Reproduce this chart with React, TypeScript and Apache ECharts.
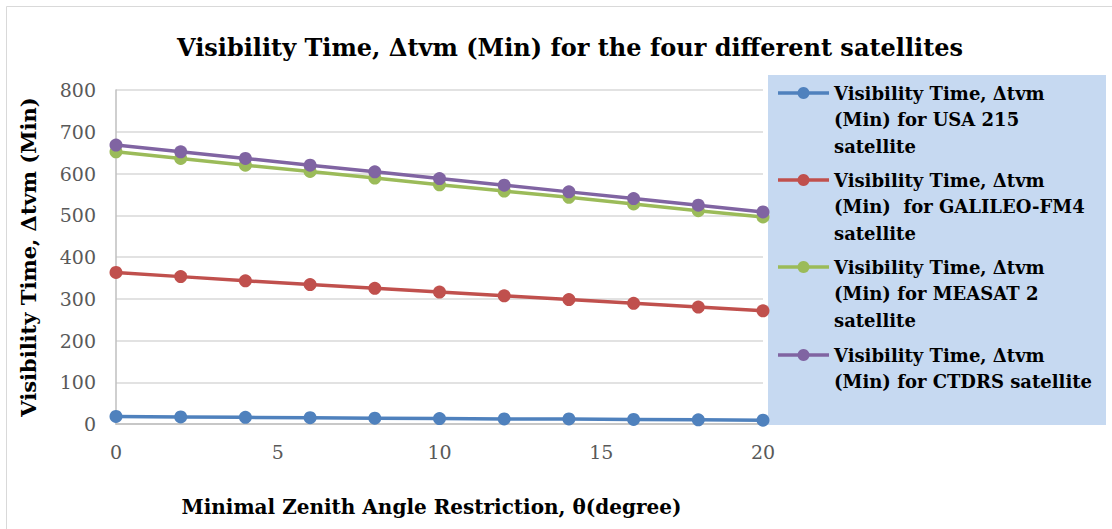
import React, { useEffect, useRef } from "react";
import * as echarts from "echarts";

const angles = [0, 2, 4, 6, 8, 10, 12, 14, 16, 18, 20];
const usa215 = [18, 17, 16, 15, 14, 13, 12, 12, 11, 10, 9];
const galileo = [363, 353, 343, 334, 325, 316, 307, 298, 289, 280, 271];
const measat = [652, 636, 620, 605, 589, 573, 558, 543, 527, 511, 496];
const ctdrs = [668, 652, 636, 620, 604, 588, 572, 556, 540, 524, 508];

const seriesNames = [
  "Visibility Time, Δtvm (Min) for USA 215 satellite",
  "Visibility Time, Δtvm (Min)  for GALILEO-FM4 satellite",
  "Visibility Time, Δtvm (Min) for MEASAT 2 satellite",
  "Visibility Time, Δtvm (Min) for CTDRS satellite",
];
const legendLines = [
  ["Visibility Time, Δtvm", "(Min) for USA 215", "satellite"],
  ["Visibility Time, Δtvm", "(Min)  for GALILEO-FM4", "satellite"],
  ["Visibility Time, Δtvm", "(Min) for MEASAT 2", "satellite"],
  ["Visibility Time, Δtvm", "(Min) for CTDRS satellite"],
];
const colors = ["#4f81bd", "#c0504d", "#9bbb59", "#8064a2"];
const allData = [usa215, galileo, measat, ctdrs];

const SERIF = "'DejaVu Serif', 'Liberation Serif', serif";

export default function App() {
  const ref = useRef<HTMLDivElement>(null);
  useEffect(() => {
    if (!ref.current) return;
    const chart = echarts.init(ref.current, null, { renderer: "svg" });

    const legendGraphics: any[] = [
      {
        type: "rect",
        shape: { x: 768, y: 75, width: 338, height: 350 },
        style: { fill: "#c6d9f1" },
        z: 1,
      },
    ];
    const itemTops = [93, 180, 267, 355];
    legendLines.forEach((lines, i) => {
      const y0 = itemTops[i];
      legendGraphics.push({
        type: "line",
        shape: { x1: 778, y1: y0, x2: 829, y2: y0 },
        style: { stroke: colors[i], lineWidth: 3.5 },
        z: 2,
      });
      legendGraphics.push({
        type: "circle",
        shape: { cx: 803.5, cy: y0, r: 6 },
        style: { fill: colors[i] },
        z: 3,
      });
      lines.forEach((t, j) => {
        legendGraphics.push({
          type: "text",
          x: 834,
          y: y0 + j * 26.5,
          style: {
            text: t,
            fill: "#000",
            font: `bold 18px ${SERIF}`,
            textVerticalAlign: "middle",
            verticalAlign: "middle",
          },
          z: 3,
        });
      });
    });

    chart.setOption({
      animation: false,
      backgroundColor: "#fff",
      title: {
        text: "Visibility Time, Δtvm (Min) for the four different satellites",
        left: 565,
        textAlign: "center",
        top: 30,
        textStyle: {
          fontFamily: SERIF,
          fontWeight: "bold",
          fontSize: 24,
          color: "#000",
        },
      },
      grid: { left: 116, top: 90, width: 647, height: 334, containLabel: false },
      xAxis: {
        type: "value",
        min: 0,
        max: 20,
        interval: 5,
        name: "Minimal Zenith Angle Restriction, θ(degree)",
        nameLocation: "middle",
        nameGap: 73,
        nameTextStyle: {
          fontFamily: SERIF,
          fontWeight: "bold",
          fontSize: 20,
          color: "#000",
          padding: [0, 16, 0, 0],
        },
        axisLine: { show: true, lineStyle: { color: "#bfbfbf", width: 1.5 } },
        axisTick: { show: false },
        splitLine: { show: false },
        axisLabel: {
          fontFamily: SERIF,
          fontSize: 19,
          color: "#595959",
          margin: 18,
        },
      },
      yAxis: {
        type: "value",
        min: 0,
        max: 800,
        interval: 100,
        name: "Visibility Time, Δtvm (Min)",
        nameLocation: "middle",
        nameGap: 77,
        nameRotate: 90,
        nameTextStyle: {
          fontFamily: SERIF,
          fontWeight: "bold",
          fontSize: 21,
          color: "#000",
        },
        axisLine: { show: true, lineStyle: { color: "#bfbfbf", width: 1.5 } },
        axisTick: { show: false },
        splitLine: { show: true, lineStyle: { color: "#d9d9d9", width: 1.5 } },
        axisLabel: {
          fontFamily: SERIF,
          fontSize: 19,
          color: "#595959",
          margin: 20,
        },
      },
      series: allData.map((d, i) => ({
        type: "line",
        name: seriesNames[i],
        data: angles.map((a, k) => [a, d[k]]),
        symbol: "circle",
        symbolSize: 13,
        showSymbol: true,
        lineStyle: { color: colors[i], width: 3.5 },
        itemStyle: { color: colors[i] },
        z: 3 + i,
      })),
      graphic: [
        {
          type: "rect",
          shape: { x: 6.5, y: 6.5, width: 1110, height: 530 },
          style: { fill: "none", stroke: "#d9d9d9", lineWidth: 1 },
          z: 0,
        },
        ...legendGraphics,
      ],
    });
    return () => chart.dispose();
  }, []);
  return (
    <div
      ref={ref}
      style={{ position: "fixed", left: 0, top: 0, width: 1112, height: 529 }}
    />
  );
}
